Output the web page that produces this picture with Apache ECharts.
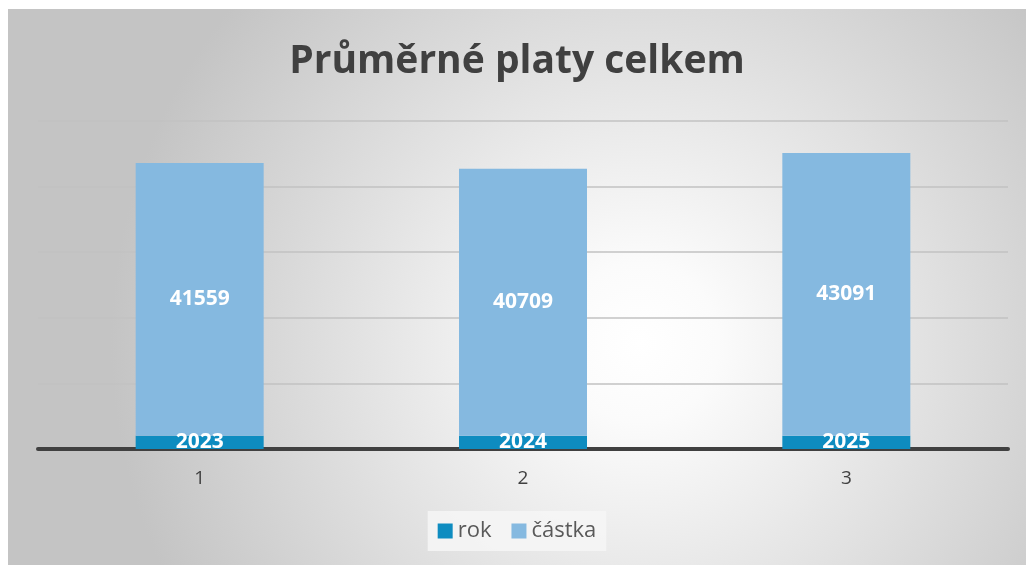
<!DOCTYPE html>
<html>
<head>
<meta charset="utf-8">
<script src="https://cdn.jsdelivr.net/npm/echarts@6/dist/echarts.min.js"></script>
<style>
  html, body { margin: 0; padding: 0; background: #fff; }
  #chart { position: absolute; left: 8px; top: 9px; width: 1018px; height: 556px; }
</style>
</head>
<body>
<div id="chart"></div>
<script>
// data
const categories = ['1', '2', '3'];
const rok = [2023, 2024, 2025];
const castka = [41559, 40709, 43091];

const chart = echarts.init(document.getElementById('chart'));
const labelStyle = {
  show: true,
  color: '#ffffff',
  fontFamily: 'Open Sans',
  fontWeight: 'bold',
  fontSize: 21
};
chart.setOption({
  backgroundColor: {
    type: 'radial', x: 0.62, y: 0.6, r: 0.95,
    colorStops: [
      { offset: 0, color: '#ffffff' },
      { offset: 0.15, color: '#fbfbfb' },
      { offset: 1, color: '#c4c4c4' }
    ]
  },
  title: {
    text: 'Průměrné platy celkem',
    left: 'center',
    top: 28,
    textStyle: {
      fontFamily: 'Open Sans',
      fontWeight: 'bold',
      fontSize: 39,
      color: '#404040'
    }
  },
  legend: {
    bottom: 14,
    left: 'center',
    itemWidth: 15,
    itemHeight: 15,
    itemGap: 20,
    padding: [9, 10],
    backgroundColor: 'rgba(246,246,246,0.85)',
    icon: 'rect',
    textStyle: { fontFamily: 'Open Sans', fontSize: 22, color: '#595959' },
    data: ['rok', 'částka']
  },
  grid: { left: 30, right: 18, top: 112, bottom: 116 },
  xAxis: {
    type: 'category',
    data: categories,
    axisLine: { lineStyle: { color: '#404040', width: 4 } },
    axisTick: { show: false },
    axisLabel: { fontFamily: 'Open Sans', fontSize: 19, color: '#404040', margin: 20 }
  },
  yAxis: {
    type: 'value',
    min: 0,
    max: 50000,
    interval: 10000,
    axisLabel: { show: false },
    axisLine: { show: false },
    axisTick: { show: false },
    splitLine: { lineStyle: { color: '#c2c2c2', width: 1.5 } }
  },
  series: [
    {
      name: 'rok',
      type: 'bar',
      stack: 'a',
      barWidth: 128,
      data: rok,
      itemStyle: { color: '#0e8cc0' },
      label: Object.assign({ position: 'inside' }, labelStyle)
    },
    {
      name: 'částka',
      type: 'bar',
      stack: 'a',
      barWidth: 128,
      data: castka,
      itemStyle: { color: '#85b9e0' },
      label: Object.assign({ position: 'inside' }, labelStyle)
    }
  ]
});
</script>
</body>
</html>
